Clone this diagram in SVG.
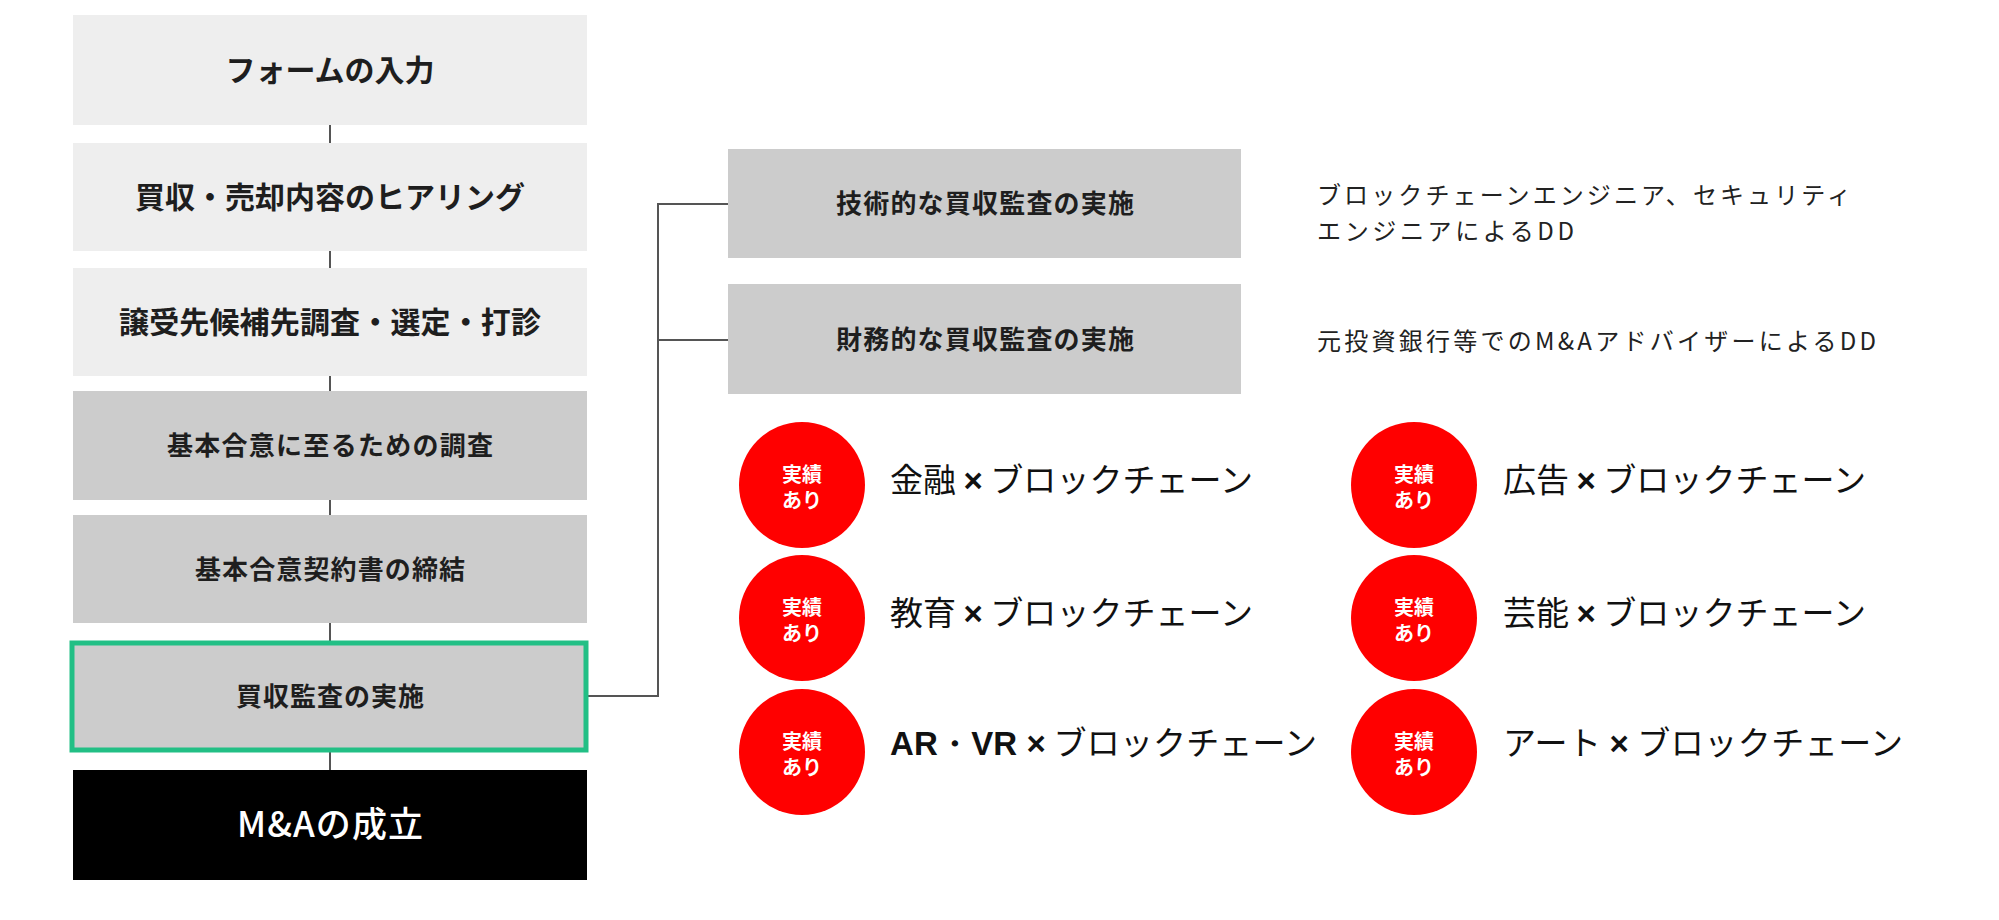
<svg xmlns="http://www.w3.org/2000/svg" width="1999" height="920" viewBox="0 0 1999 920">
<defs>
<style>
.light{fill:#eeeeee}
.mid{fill:#cccccc}
.dark{fill:#000000}
.jp{font-family:"Noto Sans CJK JP","Noto Sans",sans-serif}
.bt{font-family:"Noto Sans CJK JP",sans-serif;font-weight:700;fill:#1e1e1e;text-anchor:middle}
.b30{font-size:30px}
.b26{font-size:26px}
.desc{font-family:"Noto Sans CJK JP",sans-serif;font-weight:400;font-size:24px;fill:#222222}
.conn{fill:none;stroke:#555555;stroke-width:2}
.badge{fill:#ff0000}
.bdg{font-family:"Noto Sans CJK JP",sans-serif;font-weight:700;font-size:20px;fill:#ffffff;text-anchor:middle}
.lbl{font-family:"Noto Sans CJK JP",sans-serif;font-weight:400;font-size:33px;fill:#111111}
.x{font-family:"Liberation Sans",sans-serif;font-weight:700}
</style>
</defs>
<rect width="1999" height="920" fill="#ffffff"/>

<g id="connectors">
<line class="conn" x1="330" y1="125" x2="330" y2="143"/>
<line class="conn" x1="330" y1="251" x2="330" y2="268"/>
<line class="conn" x1="330" y1="376" x2="330" y2="391"/>
<line class="conn" x1="330" y1="500" x2="330" y2="515"/>
<line class="conn" x1="330" y1="623" x2="330" y2="641"/>
<line class="conn" x1="330" y1="752" x2="330" y2="770"/>
<polyline class="conn" points="588,696 658,696 658,204 728,204"/>
<line class="conn" x1="658" y1="340" x2="728" y2="340"/>
</g>

<g id="step1"><rect class="light" x="73" y="15" width="514" height="110"/><text class="bt b30" x="330" y="81" textLength="209">フォームの入力</text></g>
<g id="step2"><rect class="light" x="73" y="143" width="514" height="108"/><text class="bt b30" x="330" y="208" textLength="390">買収・売却内容のヒアリング</text></g>
<g id="step3"><rect class="light" x="73" y="268" width="514" height="108"/><text class="bt b30" x="330" y="333" textLength="422">譲受先候補先調査・選定・打診</text></g>
<g id="step4"><rect class="mid" x="73" y="391" width="514" height="109"/><text class="bt b26" x="330" y="455" textLength="326">基本合意に至るための調査</text></g>
<g id="step5"><rect class="mid" x="73" y="515" width="514" height="108"/><text class="bt b26" x="330" y="579" textLength="270">基本合意契約書の締結</text></g>
<g id="step6"><rect class="mid" x="72" y="643" width="514" height="107" stroke="#22bf85" stroke-width="5"/><text class="bt b26" x="330" y="706" textLength="188">買収監査の実施</text></g>
<g id="step7"><rect class="dark" x="73" y="770" width="514" height="110"/><text class="jp" x="330" y="837" font-size="35" font-weight="500" fill="#ffffff" text-anchor="middle" textLength="186">M&amp;Aの成立</text></g>

<g id="tech"><rect class="mid" x="728" y="149" width="513" height="109"/><text class="bt b26" x="985" y="213" textLength="298">技術的な買収監査の実施</text></g>
<g id="fin"><rect class="mid" x="728" y="284" width="513" height="110"/><text class="bt b26" x="985" y="349" textLength="298">財務的な買収監査の実施</text></g>

<g id="tech-desc">
<text class="desc" x="1317" y="204" textLength="534">ブロックチェーンエンジニア、セキュリティ</text>
<text class="desc" x="1317" y="240" textLength="257">エンジニアによるDD</text>
</g>
<g id="fin-desc">
<text class="desc" x="1317" y="350" textLength="559">元投資銀行等でのM&amp;AアドバイザーによるDD</text>
</g>

<g id="r1">
<circle class="badge" cx="802" cy="485" r="63"/>
<text class="bdg" x="802" y="482">実績</text><text class="bdg" x="802" y="508">あり</text>
<text class="lbl" x="890" y="492" textLength="363">金融 <tspan class="x">×</tspan> ブロックチェーン</text>
</g>
<g id="r2">
<circle class="badge" cx="802" cy="618" r="63"/>
<text class="bdg" x="802" y="615">実績</text><text class="bdg" x="802" y="641">あり</text>
<text class="lbl" x="890" y="625" textLength="363">教育 <tspan class="x">×</tspan> ブロックチェーン</text>
</g>
<g id="r3">
<circle class="badge" cx="802" cy="752" r="63"/>
<text class="bdg" x="802" y="749">実績</text><text class="bdg" x="802" y="775">あり</text>
<text class="lbl" x="890" y="755" textLength="427"><tspan class="x">AR・VR ×</tspan> ブロックチェーン</text>
</g>
<g id="r4">
<circle class="badge" cx="1414" cy="485" r="63"/>
<text class="bdg" x="1414" y="482">実績</text><text class="bdg" x="1414" y="508">あり</text>
<text class="lbl" x="1503" y="492" textLength="363">広告 <tspan class="x">×</tspan> ブロックチェーン</text>
</g>
<g id="r5">
<circle class="badge" cx="1414" cy="618" r="63"/>
<text class="bdg" x="1414" y="615">実績</text><text class="bdg" x="1414" y="641">あり</text>
<text class="lbl" x="1503" y="625" textLength="363">芸能 <tspan class="x">×</tspan> ブロックチェーン</text>
</g>
<g id="r6">
<circle class="badge" cx="1414" cy="752" r="63"/>
<text class="bdg" x="1414" y="749">実績</text><text class="bdg" x="1414" y="775">あり</text>
<text class="lbl" x="1503" y="755" textLength="400">アート <tspan class="x">×</tspan> ブロックチェーン</text>
</g>
</svg>
